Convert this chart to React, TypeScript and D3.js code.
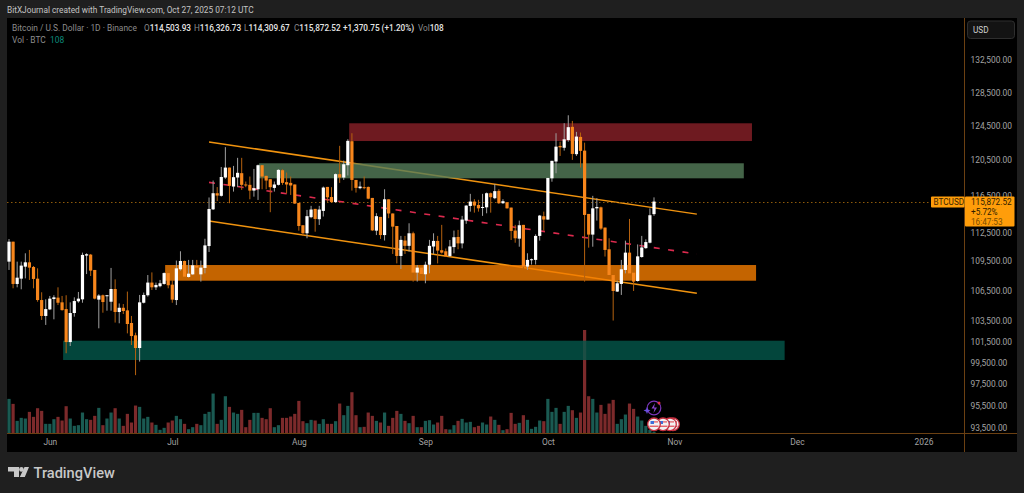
import React, { useEffect, useRef } from "react";
import * as d3 from "d3";

const width = 1024;
const height = 493;

// BTCUSD daily, thousands of USD, first bar is 2025-05-22
const firstDay = new Date(Date.UTC(2025, 4, 22));
const lastDay = new Date(Date.UTC(2025, 9, 27));

const opens = [
  109.46,111.55,107.17,107.71,108.94,109.39,108.91,107.71,105.55,103.97,
  104.62,105.65,105.79,105.32,104.65,101.43,104.26,105.42,105.62,110.09,
  110.19,108.60,105.59,106.03,105.96,105.38,106.66,104.36,104.78,104.52,
  103.28,102.08,100.86,105.28,106.03,107.31,106.83,106.94,107.17,108.28,
  107.10,105.55,108.67,109.53,107.88,108.15,109.05,108.15,108.81,111.09,
  115.02,116.79,116.50,118.54,119.66,117.53,118.54,119.03,117.76,117.72,
  117.08,117.23,119.93,118.73,118.35,117.38,117.72,119.36,118.02,117.94,
  117.76,115.72,113.30,112.44,114.17,115.07,113.95,114.85,117.49,116.37,
  115.81,118.92,118.54,119.93,122.69,118.27,117.35,117.46,117.49,116.27,
  112.72,114.20,112.25,116.12,114.57,113.22,110.05,111.67,111.11,112.44,
  108.33,108.84,108.16,109.14,111.04,111.63,110.65,110.54,110.05,110.98,
  112.05,111.37,113.80,115.39,115.87,115.50,115.17,115.24,116.79,116.24,
  117.05,115.69,115.80,115.21,112.73,111.87,113.34,108.95,109.64,109.64,
  112.16,114.27,113.91,118.45,120.35,122.14,121.93,122.83,124.37,121.19,
  123.19,121.60,114.52,112.30,115.13,115.24,113.05,110.75,108.08,106.40,
  107.17,108.60,110.40,108.32,107.47,109.94,110.87,111.44,114.50,
];
const highs = [
  111.83,111.55,109.46,109.46,110.33,110.68,109.01,108.77,106.33,105.62,
  105.96,106.03,106.83,105.96,106.03,105.32,105.82,106.36,110.40,110.33,
  110.26,108.60,106.13,106.10,106.06,108.81,107.64,105.21,105.15,106.40,
  103.97,102.34,106.06,106.30,108.08,108.35,107.31,107.58,108.35,108.28,
  107.58,109.57,110.54,109.57,109.64,109.64,109.64,109.57,111.86,116.32,
  118.20,117.47,119.73,122.00,119.66,119.85,120.77,120.77,118.09,118.65,
  119.51,120.00,119.93,118.73,118.35,118.09,119.48,119.48,119.10,118.65,
  117.76,115.72,113.30,114.96,115.40,115.07,115.40,117.53,117.49,117.46,
  119.00,122.15,120.46,122.92,123.62,118.27,118.09,118.65,117.53,116.27,
  114.60,114.20,117.23,116.12,114.57,113.22,112.16,112.16,113.51,112.61,
  109.11,108.84,109.46,111.74,112.44,112.16,113.34,110.83,111.73,112.73,
  112.80,114.31,115.47,116.72,116.13,116.06,116.72,116.87,116.87,117.80,
  117.24,116.13,115.80,115.21,113.34,113.80,113.34,110.33,109.78,112.33,
  114.41,114.77,118.49,120.43,123.62,122.63,124.80,125.74,125.07,123.78,
  123.70,122.52,114.52,116.50,116.24,115.32,113.05,111.91,108.15,107.51,
  109.64,111.66,113.98,108.77,111.26,112.16,111.80,115.13,116.33,
];
const lows = [
  108.60,106.73,106.83,106.63,107.74,107.58,106.73,105.38,103.58,103.09,
  104.55,103.64,105.05,104.49,100.36,101.05,103.90,105.28,105.28,108.18,
  107.98,105.62,102.76,104.29,104.49,104.49,103.32,103.25,104.16,102.27,
  101.15,98.30,99.57,105.21,105.89,106.56,106.56,106.83,107.10,106.73,
  105.28,105.05,108.53,107.85,107.81,108.08,108.25,107.41,108.25,110.47,
  114.95,115.93,116.42,118.39,115.69,116.97,117.46,117.16,117.46,116.12,
  116.41,116.05,117.23,117.23,114.71,116.97,117.65,117.72,116.78,116.60,
  115.61,112.72,112.16,111.91,114.06,112.61,113.33,114.24,115.85,115.74,
  115.74,117.94,118.27,118.77,117.08,116.86,117.23,117.23,116.12,112.68,
  112.25,111.84,111.67,114.06,110.26,109.28,108.70,110.26,110.51,107.41,
  107.41,108.00,107.24,108.26,110.26,109.28,110.30,109.94,109.94,110.33,
  110.75,110.85,113.45,114.77,114.66,114.77,114.31,114.59,114.66,116.13,
  115.61,115.61,115.10,111.73,111.44,111.02,108.67,108.60,109.16,109.16,
  111.66,112.73,113.88,118.07,119.02,120.99,121.60,122.63,120.54,120.99,
  119.67,107.41,110.92,111.02,113.80,112.80,109.99,107.98,103.52,106.36,
  106.06,108.25,108.25,106.46,107.41,109.87,110.80,111.37,114.31,
];
const closes = [
  111.55,107.17,107.81,109.05,109.39,108.84,107.68,105.55,103.97,104.65,
  105.69,105.82,105.28,104.55,101.43,104.26,105.45,105.69,110.16,110.23,
  108.53,105.69,106.00,105.35,106.03,106.66,104.36,104.78,104.46,103.18,
  102.01,100.86,105.32,106.06,107.31,106.83,107.07,107.24,108.28,107.04,
  105.59,108.77,109.53,107.91,108.22,109.08,108.84,108.84,111.16,115.06,
  116.79,116.53,118.60,119.66,117.61,118.58,119.07,117.72,117.65,117.08,
  117.35,119.93,118.65,118.20,117.46,117.76,119.40,117.94,117.76,117.65,
  115.65,113.22,112.44,114.28,115.00,113.98,115.00,117.42,116.34,115.81,
  118.92,118.54,120.04,122.73,118.27,117.38,117.53,117.35,116.19,112.75,
  114.28,112.25,116.12,114.57,113.15,110.05,111.74,111.11,112.44,108.33,
  108.84,108.19,109.14,111.11,111.63,110.61,110.40,110.01,111.05,112.02,
  111.37,113.91,115.43,115.87,115.43,115.13,115.28,116.79,116.35,117.02,
  115.69,115.91,115.13,112.69,111.91,113.30,108.95,109.64,109.71,112.16,
  114.34,113.91,118.49,120.43,122.06,121.98,122.91,124.33,121.22,123.23,
  121.57,114.41,112.30,115.13,115.28,112.94,110.68,108.08,106.46,107.24,
  108.67,110.40,108.25,107.41,110.01,110.94,111.51,114.38,115.87,
];
const volumes = [
  2080,1780,760,940,900,1300,1000,1520,1360,580,
  580,860,1000,780,1640,900,460,500,1260,860,
  820,1060,1540,500,900,1260,1520,900,460,1180,
  660,1680,1600,900,1000,660,520,220,340,660,
  780,1060,860,580,260,380,580,500,1180,1300,
  2400,580,820,2240,1600,1260,1180,1420,380,820,
  1240,1240,940,860,1520,380,500,940,940,1020,
  1180,1960,740,620,820,780,580,860,580,580,
  740,1800,1100,1660,2480,1100,380,400,1260,1060,
  760,660,1260,460,940,1360,1180,760,620,1060,
  380,380,760,800,540,660,1060,260,240,500,
  760,880,660,700,380,460,660,540,1020,820,
  520,200,260,1240,580,640,1100,820,280,400,
  780,740,2080,1300,1540,580,1300,1660,1400,940,
  1260,6220,2240,2080,1260,1720,1180,1800,2020,580,
  860,1140,1800,1480,1020,780,460,220,108,
];

const priceTicks = [132500, 128500, 124500, 120500, 116500, 112500, 109500, 106500, 103500, 101500, 99500, 97500, 95500, 93500];
const timeTicks = [
  new Date(Date.UTC(2025, 5, 1)),
  new Date(Date.UTC(2025, 6, 1)),
  new Date(Date.UTC(2025, 7, 1)),
  new Date(Date.UTC(2025, 8, 1)),
  new Date(Date.UTC(2025, 9, 1)),
  new Date(Date.UTC(2025, 10, 1)),
  new Date(Date.UTC(2025, 11, 1)),
  new Date(Date.UTC(2026, 0, 1)),
];

// supply / demand boxes
const zoneStarts = [new Date(Date.UTC(2025, 7, 13, 8)), new Date(Date.UTC(2025, 6, 22, 6)), new Date(Date.UTC(2025, 5, 29, 6)), new Date(Date.UTC(2025, 5, 4, 6))];
const zoneEnds = [new Date(Date.UTC(2025, 10, 20)), new Date(Date.UTC(2025, 10, 18)), new Date(Date.UTC(2025, 10, 21)), new Date(Date.UTC(2025, 10, 28))];
const zoneTops = [124790, 120150, 109110, 101560];
const zoneBottoms = [122710, 118450, 107500, 99720];
const zoneColors = ["#8a2128", "#557d5a", "#f57d00", "#04584b"];

const trendStart = new Date(Date.UTC(2025, 6, 10));
const trendEnd = new Date(Date.UTC(2025, 10, 6, 12));
const upperLine = [122600, 114500];
const midLine = [118000, 110260];
const lowerLine = [113760, 106220];

const lastPrice = 115872.52;

const uiFont = "Roboto, 'Liberation Sans', sans-serif";
const frame = "#6b4012";

const x = d3.scaleUtc([firstDay, lastDay], [9, 654]);
const y = d3.scaleLog([132500, 93500], [60, 428]);
const vol = d3.scaleLinear([0, 6220], [433.5, 330]);
const dayX = (i: number) => x(d3.utcDay.offset(firstDay, i));
const bars = d3.range(opens.length);

const App = () => {
  const chartRef = useRef<SVGGElement>(null);

  useEffect(() => {
    const g = d3.select(chartRef.current);
    g.selectAll("*").remove();

    // volume
    g.append("g").selectAll("rect").data(bars).join("rect")
      .attr("x", (i) => dayX(i) - 1.6)
      .attr("width", 3.2)
      .attr("y", (i) => vol(volumes[i]))
      .attr("height", (i) => vol(0) - vol(volumes[i]))
      .attr("fill", (i) => (closes[i] >= opens[i] ? "#1a5a52" : "#7c2a2b"));

    // channel
    const line = d3.line<[Date, number]>().x((d) => x(d[0])).y((d) => y(d[1]));
    [upperLine, lowerLine].forEach((l) => {
      g.append("path")
        .attr("d", line([[trendStart, l[0]], [trendEnd, l[1]]]))
        .attr("stroke", "#f0930f").attr("stroke-width", 1.5).attr("fill", "none");
    });
    g.append("path")
      .attr("d", line([[trendStart, midLine[0]], [trendEnd, midLine[1]]]))
      .attr("stroke", "#dc2a4e").attr("stroke-width", 1.6).attr("stroke-dasharray", "6 8.5").attr("fill", "none");

    // zones
    g.append("g").selectAll("rect").data(zoneTops).join("rect")
      .attr("x", (_, i) => x(zoneStarts[i]))
      .attr("width", (_, i) => x(zoneEnds[i]) - x(zoneStarts[i]))
      .attr("y", (d) => y(d))
      .attr("height", (d, i) => y(zoneBottoms[i]) - y(d))
      .attr("fill", (_, i) => zoneColors[i])
      .attr("fill-opacity", 0.8);

    // last price line
    g.append("line")
      .attr("x1", 7).attr("x2", 965)
      .attr("y1", Math.round(y(lastPrice)) + 0.5).attr("y2", Math.round(y(lastPrice)) + 0.5)
      .attr("stroke", "#8f5a0a").attr("stroke-width", 1).attr("stroke-dasharray", "1.5 2.5");

    // candles
    const k = (v: number) => y(v * 1000);
    g.append("g").selectAll("line").data(bars).join("line")
      .attr("x1", dayX).attr("x2", dayX)
      .attr("y1", (i) => k(highs[i]))
      .attr("y2", (i) => k(lows[i]))
      .attr("stroke", (i) => (closes[i] >= opens[i] ? "#a0a0a0" : "#b5620f"))
      .attr("stroke-width", 1);
    g.append("g").selectAll("rect").data(bars).join("rect")
      .attr("x", (i) => dayX(i) - 1.6)
      .attr("width", 3.2)
      .attr("y", (i) => k(Math.max(opens[i], closes[i])))
      .attr("height", (i) => Math.max(1, Math.abs(k(opens[i]) - k(closes[i]))))
      .attr("fill", (i) => (closes[i] >= opens[i] ? "#ffffff" : "#f7861c"));

    // frame
    g.append("line").attr("x1", 7).attr("x2", 1017).attr("y1", 433.5).attr("y2", 433.5).attr("stroke", frame);
    g.append("line").attr("x1", 964.5).attr("x2", 964.5).attr("y1", 18).attr("y2", 452).attr("stroke", frame);

    // axes
    const yAxis = d3.axisRight(y)
      .tickValues(priceTicks)
      .tickSize(0)
      .tickPadding(0)
      .tickFormat((d) => d3.format(",.2f")(d as number));
    g.append("g")
      .attr("transform", "translate(970.5,0)")
      .call(yAxis)
      .call((a) => a.select(".domain").remove())
      .call((a) => a.selectAll("text").attr("fill", "#a3a3a3").attr("font-size", 8.4).attr("font-family", uiFont));

    const xAxis = d3.axisBottom(x)
      .tickValues(timeTicks)
      .tickSize(0)
      .tickPadding(0)
      .tickFormat((d) => ((d as Date).getUTCMonth() === 0 ? d3.utcFormat("%Y")(d as Date) : d3.utcFormat("%b")(d as Date)));
    g.append("g")
      .attr("transform", "translate(0,439.5)")
      .call(xAxis)
      .call((a) => a.select(".domain").remove())
      .call((a) => a.selectAll("text").attr("fill", "#a3a3a3").attr("font-size", 8.4).attr("font-family", uiFont));
  }, []);

  const py = y(lastPrice);
  const t = { fontFamily: uiFont, fontSize: 8.2 };
  const ex = x(lastDay);
  const flags = [19, 16, 9, 0];

  return (
    <svg width={width} height={height} style={{ position: "absolute", left: 0, top: 0 }}>
      <rect width={width} height={height} fill="#1f1f1f" />
      <rect x={7} y={18} width={1010} height={434} fill="#000" />
      <g ref={chartRef} />

      <text x={7} y={12.5} fill="#c4c4c4" style={{ ...t, fontSize: 8.3 }}>BitXJournal created with TradingView.com, Oct 27, 2025 07:12 UTC</text>
      <text x={12} y={31} fill="#8c8c8c" style={{ ...t, fontSize: 8.4 }}>Bitcoin / U.S. Dollar · 1D · Binance</text>
      {[
        ["O", "114,503.93", 144],
        ["H", "116,326.73", 194],
        ["L", "114,309.67", 244],
        ["C", "115,872.52", 294],
      ].map(([a, b, px]) => (
        <text key={a as string} x={px as number} y={31} style={t} fill="#8c8c8c">
          {a}<tspan fill="#e6e6e6" fontWeight={500}>{b}</tspan>
        </text>
      ))}
      <text x={343} y={31} fill="#e6e6e6" fontWeight={500} style={t}>+1,370.75 (+1.20%)</text>
      <text x={418} y={31} style={t} fill="#8c8c8c">Vol<tspan fill="#e6e6e6" fontWeight={500}>108</tspan></text>
      <text x={12} y={42.5} fill="#8c8c8c" style={{ ...t, fontSize: 8.4 }}>Vol · BTC</text>
      <text x={50} y={42.5} fill="#0b8a7a" style={{ ...t, fontSize: 8.4 }}>108</text>

      <rect x={967.5} y={21} width={47} height={17.5} rx={3} fill="#131313" stroke="#2e2e2e" />
      <text x={973} y={33} fill="#d0d0d0" style={{ ...t, fontSize: 8.2 }}>USD</text>

      <rect x={931} y={py - 5} width={33.5} height={11} rx={1} fill="#ff9d0a" />
      <text x={933.5} y={py + 3} fill="#3a2400" style={t}>BTCUSD</text>
      <rect x={965} y={py - 5} width={49.5} height={30} rx={1} fill="#ff9d0a" />
      <text x={971} y={py + 3} fill="#2e1c00" style={t}>115,872.52</text>
      <text x={971} y={py + 13} fill="#2e1c00" style={t}>+5.72%</text>
      <text x={971} y={py + 23} fill="#7a4c00" style={t}>16:47:53</text>

      <circle cx={ex} cy={408} r={6.8} fill="none" stroke="#7a35b8" strokeWidth={1.2} />
      <path d={`M${ex + 1} 403l-3.5 5.5h3l-1 4.5l3.5-5.5h-3z`} fill="#8b45cf" />
      <circle cx={ex + 5} cy={403} r={1.5} fill="#e0314a" />
      <path d={`M${ex - 7} 407l1 2.5l2.5 1l-2.5 1l-1 2.5l-1-2.5l-2.5-1l2.5-1z`} fill="#6c4ee0" />
      {flags.map((d) => (
        <g key={d}>
          <circle cx={ex + d} cy={424.3} r={6.3} fill="#f2f2f2" stroke="#c62f3f" strokeWidth={1.3} />
          <rect x={ex + d - 4.5} y={425.6} width={9} height={1.3} fill="#e2565f" />
          <rect x={ex + d - 3.5} y={421} width={3.5} height={3} fill="#3c6fd8" />
          <rect x={ex + d} y={421.3} width={4} height={1.2} fill="#e2565f" />
        </g>
      ))}

      <path d="M8 467h11v10h-5v-5.5h-6zM24.5 467h4.5l-4.2 10h-5z" fill="#c8c8c8" />
      <circle cx={21.4} cy={469.4} r={2.3} fill="#c8c8c8" />
      <text x={33.5} y={478} fill="#c8c8c8" fontFamily={uiFont} fontSize={14.6} fontWeight={500}>TradingView</text>
    </svg>
  );
};

export default App;
